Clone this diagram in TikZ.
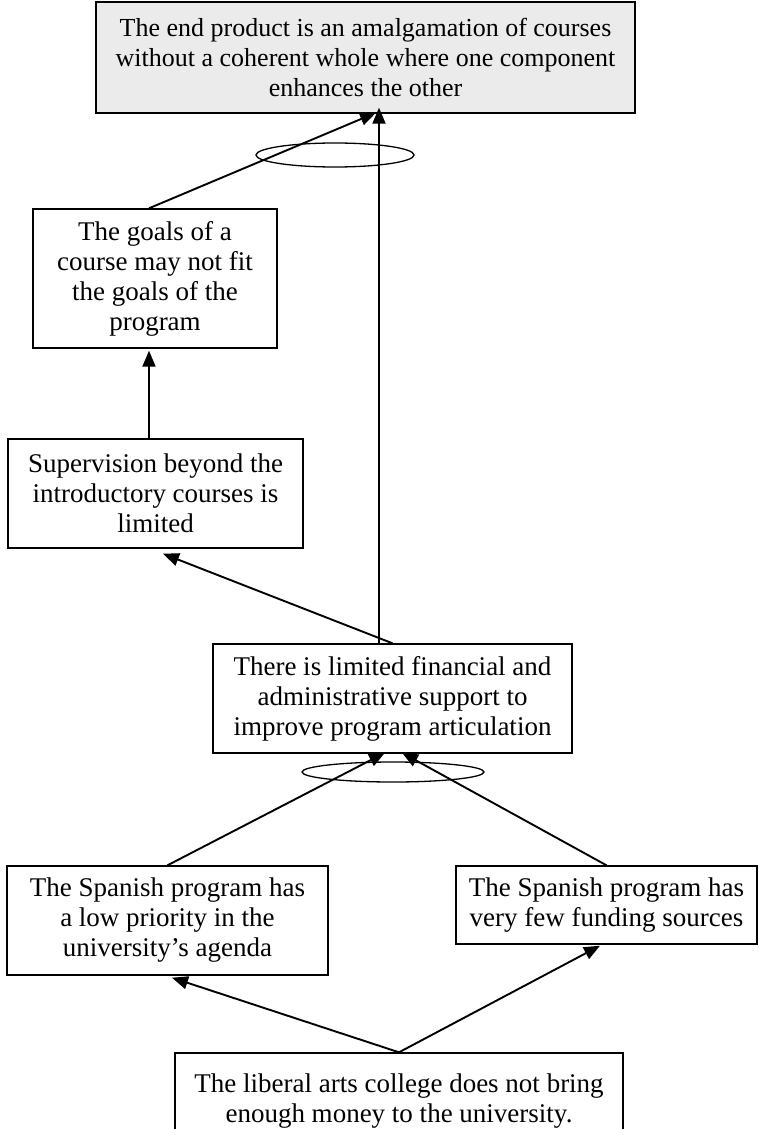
\documentclass[tikz,border=0pt]{standalone}
\usepackage{fontspec}
\setmainfont{Liberation Serif}
\usetikzlibrary{arrows.meta,shapes.geometric}
\begin{document}
\begin{tikzpicture}[x=1pt,y=-1pt,
  box/.style={draw=black,line width=1.4pt,rectangle,align=center,inner sep=0pt,
    font=\fontsize{27}{30}\selectfont},
  arr/.style={line width=1.9pt,-{Triangle[length=16pt,width=13pt]}},
  andmark/.style={draw=black,line width=1.3pt,ellipse,inner sep=0pt}]
\clip (0,0) rectangle (759,1129);
\fill[white] (0,0) rectangle (759,1129);

% cause and effect boxes
\node[box,fill={rgb,255:red,235;green,235;blue,235},minimum width=539pt,minimum height=111pt,
  font=\fontsize{26}{30}\selectfont] (top) at (365.5,57.5)
  {The end product is an amalgamation of courses\\without a coherent whole where one component\\enhances the other};
\node[box,minimum width=244pt,minimum height=139pt] (goals) at (155,278.5)
  {The goals of a\\course may not fit\\the goals of the\\program};
\node[box,minimum width=295pt,minimum height=109pt] (sup) at (155.5,493.5)
  {Supervision beyond the\\introductory courses is\\limited};
\node[box,minimum width=359pt,minimum height=109pt] (fin) at (392.5,698.5)
  {There is limited financial and\\administrative support to\\improve program articulation};
\node[box,minimum width=321pt,minimum height=109pt] (low) at (167.5,920.5)
  {The Spanish program has\\a low priority in the\\university’s agenda};
\node[box,minimum width=301pt,minimum height=78pt] (few) at (606.5,905)
  {The Spanish program has\\very few funding sources};
\node[box,minimum width=448pt,minimum height=96pt] (lib) at (399,1101)
  {The liberal arts college does not bring\\enough money to the university.};

% joint-cause marks
\node[andmark,minimum width=158pt,minimum height=24pt] (andtop) at (335,155) {};
\node[andmark,minimum width=182pt,minimum height=20pt] (andmid) at (393,772) {};

% connectors
\draw[arr] ([xshift=-6pt]goals.north) -- ([xshift=10.5pt,yshift=1pt]top.south);
\draw[arr] ([xshift=-13.5pt]fin.north) -- ([xshift=13.5pt,yshift=6pt]top.south);
\draw[arr] ([xshift=-6.5pt]sup.north) -- ([xshift=-6pt,yshift=-2pt]goals.south);
\draw[arr] (fin.north) -- ([xshift=7.5pt,yshift=-5pt]sup.south);
\draw[arr] (low.north) -- ([xshift=-7.5pt,yshift=1pt]fin.south);
\draw[arr] (few.north) -- ([xshift=9.5pt,yshift=1pt]fin.south);
\draw[arr] (lib.north) -- ([xshift=4.5pt,yshift=-2pt]low.south);
\draw[arr] (lib.north) -- ([xshift=-6.5pt,yshift=-1pt]few.south);
\end{tikzpicture}
\end{document}
